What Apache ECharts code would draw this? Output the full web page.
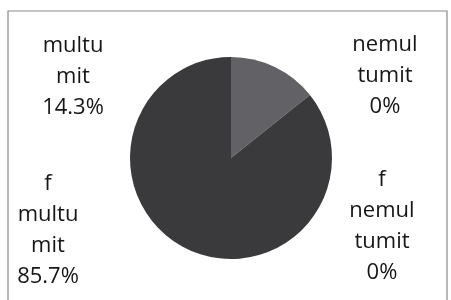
<!DOCTYPE html>
<html>
<head>
<meta charset="utf-8">
<script src="https://cdn.jsdelivr.net/npm/echarts@6/dist/echarts.min.js"></script>
<style>
  html, body { margin: 0; padding: 0; background: #fff; }
  #chart { width: 451px; height: 300px; }
</style>
</head>
<body>
<div id="chart"></div>
<script>
// slice names and counts, clockwise from 12 o'clock
var names = ['multu\nmit', 'nemul\ntumit', 'f\nmultu\nmit', 'f\nnemul\ntumit'];
var values = [1, 0, 6, 0];
var colors = ['#616166', '#444446', '#3a3a3c', '#2e2e30'];

var chartDom = document.getElementById('chart');
var myChart = echarts.init(chartDom);

var pieData = [];
for (var i = 0; i < names.length; i++) {
  pieData.push({ name: names[i], value: values[i], itemStyle: { color: colors[i] } });
}

// where each data label sits (label centres)
var labelSpots = [[73, 77], [385, 76], [48, 230], [382, 226]];

var option = {
  animation: false,
  graphic: [
    {
      type: 'rect',
      shape: { x: 8, y: 11, width: 439, height: 300 },
      style: { fill: 'none', stroke: '#8a8a8a', lineWidth: 1.2 },
      silent: true
    }
  ],
  series: [
    {
      type: 'pie',
      center: [231, 158],
      radius: 101,
      startAngle: 90,
      clockwise: true,
      percentPrecision: 1,
      avoidLabelOverlap: false,
      itemStyle: { borderWidth: 0 },
      label: {
        show: true,
        formatter: function (p) { return p.name + '\n' + p.percent + '%'; },
        fontFamily: 'Open Sans',
        fontSize: 22,
        lineHeight: 31,
        color: '#161616',
        align: 'center'
      },
      labelLine: { show: false },
      labelLayout: function (params) {
        var s = labelSpots[params.dataIndex];
        return { x: s[0], y: s[1], align: 'center', verticalAlign: 'middle' };
      },
      emphasis: { disabled: true },
      data: pieData
    }
  ]
};

option && myChart.setOption(option);
</script>
</body>
</html>
